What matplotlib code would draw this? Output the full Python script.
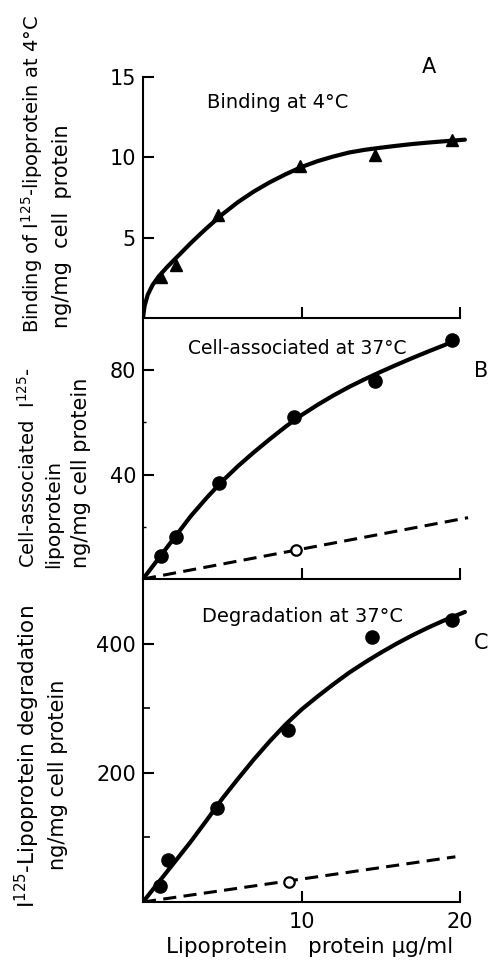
import matplotlib
matplotlib.use("Agg")
import matplotlib.pyplot as plt

plt.rcParams["font.family"] = ["DejaVu Sans"]
plt.rcParams["mathtext.fontset"] = "dejavusans"

# ---- data ----
# A: binding at 4 C (triangles) and drawn curve
a_x = [1.14, 2.06, 4.75, 9.9, 14.64, 19.48]
a_y = [2.57, 3.3, 6.41, 9.48, 10.14, 11.08]
a_curve_x = [0, 0.1, 0.3, 0.6, 1.0, 1.5, 2.0, 2.5, 3.0, 3.5, 4.0, 5.0, 6.0,
             7.0, 8.0, 9.0, 10.0, 11.0, 12.0, 13.0, 14.0, 15.0, 16.0, 17.0,
             18.0, 19.0, 20.3]
a_curve_y = [0, 0.75, 1.45, 2.05, 2.6, 3.15, 3.65, 4.15, 4.65, 5.12, 5.58,
             6.45, 7.22, 7.88, 8.45, 8.95, 9.4, 9.76, 10.05, 10.3, 10.47,
             10.6, 10.72, 10.83, 10.92, 11.0, 11.1]

# B: cell-associated at 37 C
b_x = [1.14, 2.05, 4.8, 9.55, 14.64, 19.48]
b_y = [8.8, 16.2, 36.9, 61.9, 75.8, 91.5]
b_open_x = [9.65]
b_open_y = [11.2]
b_curve_x = [0, 1, 2, 3, 4, 5, 6, 7, 8, 9, 10, 11, 12, 13, 14, 15, 16, 17,
             18, 19, 19.6]
b_curve_y = [0, 8, 16, 24, 31, 37.5, 43.3, 48.6, 53.6, 58.4, 62.8, 66.7,
             70.3, 73.6, 76.6, 79.4, 82.1, 84.7, 87.2, 89.6, 91.2]
b_dash_x = [0, 20.5]
b_dash_y = [0, 23.5]

# C: degradation at 37 C
c_x = [1.07, 1.6, 4.65, 9.17, 14.43, 19.47]
c_y = [25, 65, 146, 267, 410, 437]
c_open_x = [9.2]
c_open_y = [31]
c_curve_x = [0, 1, 2, 3, 4, 5, 6, 7, 8, 9, 10, 11, 12, 13, 14, 15, 16, 17,
             18, 19, 20.3]
c_curve_y = [0, 31, 62, 93, 126, 160, 191, 221, 249, 275, 298, 318, 337,
             355, 371, 386, 400, 413, 425, 436, 449]
c_dash_x = [0, 19.7]
c_dash_y = [0, 70]

W, H = 490, 964
fig = plt.figure(figsize=(W / 100, H / 100), dpi=100)


def box(top, bottom):
    left, right = 143, 476
    return [left / W, (H - bottom) / H, (right - left) / W, (bottom - top) / H]


ax_a = fig.add_axes(box(77, 318))
ax_b = fig.add_axes(box(318, 579))
ax_c = fig.add_axes(box(579, 902))

solid = dict(color="black", lw=3.0, solid_capstyle="round",
             solid_joinstyle="round", zorder=3)
dashed = dict(color="black", lw=2.2, linestyle=(0, (4.3, 2.4)), zorder=2)

ax_a.plot(a_curve_x, a_curve_y, **solid)
ax_a.plot(a_x, a_y, "^", color="black", ms=9, zorder=4)

ax_b.plot(b_curve_x, b_curve_y, **solid)
ax_b.plot(b_dash_x, b_dash_y, **dashed)
ax_b.plot(b_x, b_y, "o", color="black", ms=9.5, zorder=4)
ax_b.plot(b_open_x, b_open_y, "o", mfc="white", mec="black", mew=1.6,
          ms=7.5, zorder=4)

ax_c.plot(c_curve_x, c_curve_y, **solid)
ax_c.plot(c_dash_x, c_dash_y, **dashed)
ax_c.plot(c_x, c_y, "o", color="black", ms=9.5, zorder=4)
ax_c.plot(c_open_x, c_open_y, "o", mfc="white", mec="black", mew=1.6,
          ms=7.5, zorder=4)

ax_a.set_ylim(0, 15)
ax_a.set_yticks([5, 10, 15])
ax_b.set_ylim(0, 100)
ax_b.set_yticks([40, 80])
ax_b.set_yticks([20, 60], minor=True)
ax_c.set_ylim(0, 500)
ax_c.set_yticks([200, 400])
ax_c.set_yticks([100, 300], minor=True)

for ax in (ax_a, ax_b, ax_c):
    ax.set_xlim(0, 21)
    ax.set_xticks([10, 20])
    ax.patch.set_visible(False)
    ax.spines["top"].set_visible(False)
    ax.spines["right"].set_visible(False)
    ax.spines["bottom"].set_bounds(0, 20)
    for s in ("left", "bottom"):
        ax.spines[s].set_linewidth(1.5)
    ax.tick_params(direction="in", length=8, width=1.5, labelsize=15, pad=5)
    ax.tick_params(axis="x", pad=7)

ax_b.tick_params(which="minor", direction="in", length=2.5, width=1.0)
ax_c.tick_params(which="minor", direction="in", length=5, width=1.2)
ax_a.tick_params(axis="x", labelbottom=False)
ax_b.tick_params(axis="x", labelbottom=False)
ax_c.set_xlabel("Lipoprotein   protein µg/ml", fontsize=15.5, labelpad=4)

# panel titles and letters
fig.text(278 / W, 1 - 103 / H, "Binding at 4°C", fontsize=14,
         ha="center", va="center")
fig.text(297 / W, 1 - 348 / H, "Cell-associated at 37°C", fontsize=13.5,
         ha="center", va="center")
fig.text(302 / W, 1 - 617 / H, "Degradation at 37°C", fontsize=14,
         ha="center", va="center")
fig.text(429 / W, 1 - 67 / H, "A", fontsize=15, ha="center", va="center")
fig.text(481 / W, 1 - 371 / H, "B", fontsize=15, ha="center", va="center")
fig.text(481 / W, 1 - 643 / H, "C", fontsize=15, ha="center", va="center")

# y labels, one text per line
ylab = dict(rotation=90, ha="center", va="bottom")
fig.text(32 / W, 1 - 333 / H, r"Binding of I$^{125}$-lipoprotein at 4°C",
         fontsize=14, **ylab)
fig.text(62 / W, 1 - 328 / H, "ng/mg  cell  protein", fontsize=15, **ylab)
fig.text(28 / W, 1 - 568 / H, r"Cell-associated  I$^{125}$-", fontsize=14,
         **ylab)
fig.text(54 / W, 1 - 568 / H, "lipoprotein", fontsize=14.5, **ylab)
fig.text(81 / W, 1 - 568 / H, "ng/mg cell protein", fontsize=15, **ylab)
fig.text(27 / W, 1 - 908 / H, r"I$^{125}$-Lipoprotein degradation",
         fontsize=15.5, **ylab)
fig.text(58 / W, 1 - 870 / H, "ng/mg cell protein", fontsize=15, **ylab)

fig.savefig("out.png", dpi=100)
